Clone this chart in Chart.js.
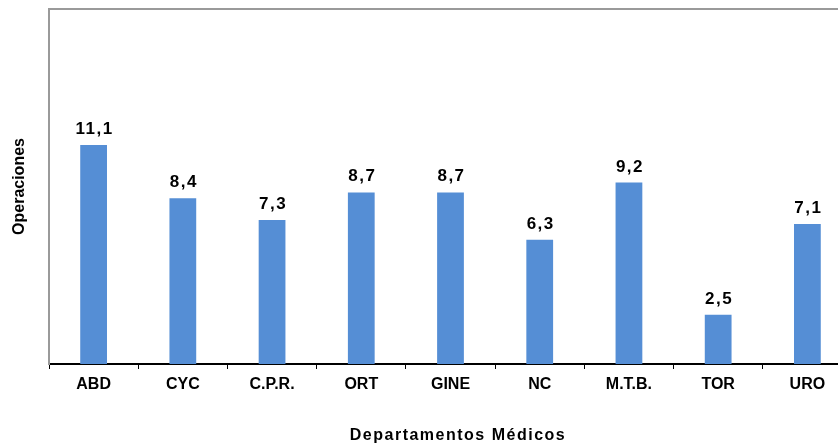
<!DOCTYPE html>
<html>
<head>
<meta charset="utf-8">
<script src="https://cdn.jsdelivr.net/npm/chart.js@4/dist/chart.umd.min.js"></script>
<style>
  html, body { margin: 0; padding: 0; overflow: hidden; background: #fff; }
  #wrap { width: 852px; height: 447px; position: relative; }
</style>
</head>
<body>
<div id="wrap"><canvas id="barChart"></canvas></div>
<script>
  // Chart data
  var departamentos = ['ABD', 'CYC', 'C.P.R.', 'ORT', 'GINE', 'NC', 'M.T.B.', 'TOR', 'URO'];
  var operaciones = [11.1, 8.4, 7.3, 8.7, 8.7, 6.3, 9.2, 2.5, 7.1];
  var yMax = 18;
  var xTitle = 'Departamentos Médicos';

  // value labels above bars, with comma decimals
  var valueLabels = {
    id: 'valueLabels',
    afterDatasetsDraw: function(chart) {
      var ctx = chart.ctx;
      var meta = chart.getDatasetMeta(0);
      ctx.save();
      ctx.font = 'bold 17px "Liberation Sans", Arial, sans-serif';
      ctx.fillStyle = '#000';
      ctx.textAlign = 'center';
      ctx.textBaseline = 'alphabetic';
      ctx.letterSpacing = '1.5px';
      meta.data.forEach(function(bar, i) {
        var txt = operaciones[i].toFixed(1).replace('.', ',');
        ctx.fillText(txt, bar.x + 1, bar.y - 11);
      });
      ctx.restore();
    }
  };

  // grey frame line along the top of the plot + x title with spacing
  var extras = {
    id: 'extras',
    afterDraw: function(chart) {
      var a = chart.chartArea;
      var ctx = chart.ctx;
      ctx.save();
      ctx.strokeStyle = '#9a9a9a';
      ctx.lineWidth = 2;
      ctx.beginPath();
      ctx.moveTo(a.left - 1, a.top);
      ctx.lineTo(a.right, a.top);
      ctx.stroke();

      ctx.font = 'bold 16px "Liberation Sans", Arial, sans-serif';
      ctx.fillStyle = '#000';
      ctx.textAlign = 'center';
      ctx.textBaseline = 'middle';
      ctx.letterSpacing = '1.5px';
      ctx.fillText(xTitle, 458, 436);
      ctx.restore();
    }
  };

  var ctx = document.getElementById('barChart').getContext('2d');
  var myBarChart = new Chart(ctx, {
    type: 'bar',
    data: {
      labels: departamentos,
      datasets: [{
        data: operaciones,
        backgroundColor: '#558ED5',
        barPercentage: 0.3,
        categoryPercentage: 1
      }]
    },
    options: {
      responsive: true,
      maintainAspectRatio: false,
      animation: false,
      layout: { padding: { top: 9, left: 0, right: 0, bottom: 0 } },
      plugins: {
        legend: { display: false },
        tooltip: { enabled: false }
      },
      scales: {
        x: {
          grid: {
            offset: true,
            drawOnChartArea: false,
            drawTicks: true,
            tickLength: 5,
            color: '#000'
          },
          border: { color: '#000', width: 2 },
          ticks: {
            color: '#000',
            padding: 6,
            font: { family: '"Liberation Sans", Arial, sans-serif', size: 16, weight: 'bold' }
          },
          afterFit: function(scale) { scale.height = 83; }
        },
        y: {
          min: 0,
          max: yMax,
          grid: { display: false },
          border: { color: '#9a9a9a', width: 2 },
          ticks: { display: false },
          title: {
            display: true,
            text: 'Operaciones',
            color: '#000',
            padding: { top: 10, bottom: 0 },
            font: { family: '"Liberation Sans", Arial, sans-serif', size: 16, weight: 'bold' }
          },
          afterFit: function(scale) { scale.width = 49; }
        }
      }
    },
    plugins: [valueLabels, extras]
  });
</script>
</body>
</html>
